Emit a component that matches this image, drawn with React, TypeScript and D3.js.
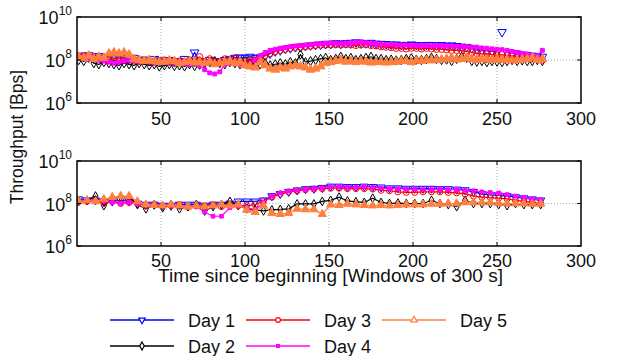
import React from "react";
import * as d3 from "d3";

// ---------- DATA (log10 of throughput in Bps) ----------
// Top panel: raw windows, sampled every 3 windows starting at window 1
const topStart = 1;
const topStep = 3;
const day1Top = [
  8.2, 8.15, 8.22, 8.1, 8.18, 8.12, 8.15, 8.08, 8.15, 8.1,
  8.05, 8.1, 8.0, 8.02, 7.95, 8.05, 7.98, 7.92, 8.0, 7.95,
  7.95, 8.05, 7.9, 8.35, 7.95, 7.9, 8.0, 7.95, 7.92, 8.0,
  8.05, 8.1, 8.12, 8.1, 8.15, 8.1, 8.12, 8.2, 8.3, 8.4,
  8.45, 8.52, 8.55, 8.6, 8.62, 8.65, 8.68, 8.7, 8.72, 8.75,
  8.75, 8.78, 8.76, 8.78, 8.8, 8.82, 8.8, 8.78, 8.8, 8.76,
  8.75, 8.74, 8.72, 8.72, 8.7, 8.7, 8.72, 8.7, 8.68, 8.7,
  8.7, 8.68, 8.7, 8.66, 8.68, 8.65, 8.62, 8.6, 8.55, 8.5,
  8.45, 8.42, 8.4, 8.4, 9.3, 8.35, 8.32, 8.3, 8.25, 8.22,
  8.2, 8.18, 8.15,
];
const day2Top = [
  8.0, 7.95, 8.1, 7.85, 7.8, 7.9, 7.85, 7.8, 7.75, 7.85,
  7.8, 7.75, 7.85, 7.8, 7.75, 7.8, 7.7, 7.75, 7.8, 7.72,
  7.75, 7.7, 7.8, 7.72, 7.78, 7.85, 7.9, 7.95, 7.85, 7.8,
  7.9, 7.85, 7.8, 7.95, 7.85, 7.75, 7.8, 7.85, 7.75, 7.8,
  7.85, 7.8, 7.9, 7.85, 8.25, 7.9, 7.95, 8.0, 8.05, 8.1,
  8.0, 8.05, 8.15, 8.05, 8.1, 8.0, 8.05, 8.1, 8.15, 8.05,
  8.05, 8.0, 8.02, 7.98, 8.0, 8.05, 8.08, 8.02, 8.0, 8.05,
  8.1, 8.05, 8.0, 8.02, 7.95, 8.05, 8.15, 8.1, 7.95, 7.92,
  7.95, 7.9, 7.95, 7.92, 7.9, 7.95, 8.0, 7.95, 7.98, 7.95,
  7.95, 8.0, 7.95,
];
const day3Top = [
  8.15, 8.2, 8.1, 8.15, 8.05, 8.1, 8.0, 8.05, 8.1, 8.0,
  8.05, 8.0, 7.95, 8.0, 7.95, 7.9, 7.95, 8.0, 7.9, 7.95,
  7.95, 7.9, 8.0, 7.95, 8.15, 7.9, 8.05, 7.95, 7.9, 8.05,
  7.95, 8.1, 7.9, 7.95, 7.98, 8.0, 8.1, 8.2, 8.3, 8.4,
  8.45, 8.5, 8.55, 8.58, 8.6, 8.62, 8.65, 8.68, 8.7, 8.7,
  8.7, 8.72, 8.7, 8.72, 8.7, 8.68, 8.7, 8.72, 8.68, 8.66,
  8.62, 8.6, 8.58, 8.55, 8.55, 8.52, 8.55, 8.55, 8.52, 8.55,
  8.52, 8.5, 8.5, 8.48, 8.45, 8.45, 8.42, 8.4, 8.35, 8.3,
  8.28, 8.3, 8.25, 8.22, 8.25, 8.2, 8.18, 8.15, 8.1, 8.08,
  8.05, 8.02, 8.0,
];
const day4Top = [
  8.1, 8.15, 8.05, 8.1, 8.0, 7.95, 7.9, 7.85, 7.9, 7.95,
  8.0, 7.95, 7.9, 7.95, 7.92, 7.88, 7.9, 7.95, 7.9, 7.85,
  7.9, 7.85, 7.8, 7.85, 7.75, 7.55, 7.4, 7.35, 7.45, 7.8,
  7.85, 7.9, 7.8, 7.75, 7.8, 8.0, 8.2, 8.35, 8.45, 8.5,
  8.55, 8.58, 8.62, 8.65, 8.68, 8.7, 8.72, 8.75, 8.75, 8.78,
  8.8, 8.78, 8.76, 8.78, 8.8, 8.82, 8.85, 8.8, 8.78, 8.76,
  8.74, 8.72, 8.72, 8.7, 8.7, 8.7, 8.68, 8.68, 8.66, 8.68,
  8.66, 8.66, 8.68, 8.65, 8.65, 8.64, 8.62, 8.62, 8.6, 8.6,
  8.56, 8.55, 8.52, 8.5, 8.48, 8.45, 8.4, 8.35, 8.3, 8.28,
  8.22, 8.2, 8.45,
];
const day5Top = [
  8.15, 8.1, 8.2, 8.05, 8.15, 8.1, 8.3, 8.35, 8.3, 8.35,
  8.25, 8.05, 8.0, 7.95, 8.0, 7.95, 7.9, 7.92, 7.98, 7.95,
  7.85, 7.9, 7.95, 7.88, 7.9, 7.85, 7.92, 7.8, 7.85, 7.9,
  7.95, 7.85, 7.9, 7.75, 7.7, 7.65, 7.9, 7.75, 7.6, 7.55,
  7.65, 7.6, 7.7, 7.75, 7.7, 7.65, 7.55, 7.6, 7.7, 7.85,
  7.9, 7.95, 8.0, 7.92, 7.95, 7.9, 7.95, 7.92, 7.88, 7.9,
  7.92, 7.88, 7.9, 7.92, 7.95, 7.95, 7.9, 7.98, 7.95, 8.0,
  7.98, 8.0, 8.02, 8.05, 8.1, 8.02, 8.05, 8.1, 8.05, 8.0,
  8.05, 8.02, 8.0, 8.05, 8.0, 8.02, 7.98, 8.0, 8.02, 8.05,
  8.1, 8.0, 8.05,
];

// Bottom panel: smoothed, every 5 windows starting at window 1
const botStart = 1;
const botStep = 5;
const day1Bot = [
  8.2, 8.15, 8.15, 8.1, 8.1, 8.15, 8.1, 8.0, 7.95, 7.95,
  7.9, 7.9, 7.95, 7.95, 7.95, 7.9, 7.95, 7.95, 8.0, 8.1,
  8.1, 8.1, 8.15, 8.35, 8.45, 8.55, 8.62, 8.68, 8.7, 8.74,
  8.8, 8.8, 8.78, 8.78, 8.8, 8.78, 8.76, 8.72, 8.72, 8.7,
  8.7, 8.7, 8.7, 8.68, 8.68, 8.66, 8.63, 8.55, 8.45, 8.4,
  8.38, 8.35, 8.3, 8.25, 8.2, 8.15,
];
const day2Bot = [
  8.1, 8.15, 8.35, 7.9, 8.2, 8.3, 8.3, 7.95, 7.75, 7.95,
  7.8, 7.95, 7.75, 7.85, 7.95, 7.65, 7.85, 7.95, 8.1, 7.9,
  7.75, 7.7, 7.65, 7.7, 7.72, 7.75, 7.98, 7.98, 7.98, 8.1,
  8.15, 8.3, 8.12, 8.08, 8.05, 8.25, 8.05, 8.0, 8.02, 8.0,
  8.0, 8.0, 8.15, 8.0, 7.95, 7.85, 8.15, 8.0, 8.0, 8.0,
  7.95, 7.9, 8.0, 7.95, 7.95, 7.95,
];
const day3Bot = [
  8.1, 8.1, 8.15, 8.0, 8.1, 8.0, 8.05, 8.0, 7.9, 7.95,
  7.9, 7.9, 7.95, 7.85, 7.9, 7.9, 7.95, 7.85, 7.95, 7.9,
  7.9, 7.95, 8.1, 8.3, 8.45, 8.55, 8.6, 8.65, 8.68, 8.7,
  8.72, 8.72, 8.7, 8.7, 8.7, 8.68, 8.62, 8.6, 8.55, 8.52,
  8.52, 8.55, 8.55, 8.55, 8.52, 8.5, 8.45, 8.35, 8.3, 8.28,
  8.25, 8.22, 8.15, 8.1, 8.05, 8.0,
];
const day4Bot = [
  8.1, 8.1, 8.15, 8.1, 8.05, 8.0, 8.05, 8.0, 7.95, 7.9,
  7.92, 7.9, 7.88, 7.9, 7.85, 7.6, 7.4, 7.4, 7.8, 7.9,
  7.8, 7.7, 8.05, 8.35, 8.5, 8.58, 8.62, 8.66, 8.7, 8.72,
  8.78, 8.8, 8.76, 8.76, 8.8, 8.76, 8.72, 8.7, 8.7, 8.68,
  8.68, 8.66, 8.66, 8.68, 8.65, 8.65, 8.62, 8.6, 8.55, 8.52,
  8.5, 8.42, 8.35, 8.28, 8.22, 8.18,
];
const day5Bot = [
  8.1, 8.15, 8.1, 8.2, 8.3, 8.35, 8.35, 8.1, 7.95, 7.92,
  7.9, 7.95, 7.9, 7.85, 7.9, 7.85, 7.9, 7.95, 7.9, 7.95,
  7.7, 7.6, 7.9, 7.55, 7.5, 7.55, 7.75, 7.72, 7.72, 7.5,
  7.95, 7.92, 7.98, 7.95, 7.92, 7.9, 7.92, 7.9, 7.92, 7.95,
  7.95, 7.95, 7.98, 7.98, 8.0, 8.0, 8.05, 8.05, 8.05, 8.05,
  8.02, 8.0, 8.0, 8.0, 7.98, 7.98,
];

const seriesNames = ["Day 1", "Day 2", "Day 3", "Day 4", "Day 5"];
const xTicks = [50, 100, 150, 200, 250, 300];
const yTickExps = [10, 8, 6];

// ---------- STYLES ----------
const colors = ["#0000ff", "#000000", "#ff0000", "#ff00ff", "#ff7f3f"];
type Mk = { type: d3.SymbolType; size: number; rot: number; fill: boolean };
const markers: Mk[] = [
  { type: d3.symbolTriangle, size: 26, rot: 180, fill: false },
  { type: d3.symbolDiamond, size: 20, rot: 0, fill: false },
  { type: d3.symbolCircle, size: 26, rot: 0, fill: false },
  { type: d3.symbolSquare, size: 12, rot: 0, fill: true },
  { type: d3.symbolTriangle, size: 26, rot: 0, fill: true },
];

const W = 619;
const H = 356;
const FONT = "'Liberation Sans', Arial, Helvetica, sans-serif";

const x = d3.scaleLinear().domain([0, 300]).range([77, 581]);

function Panel({
  top,
  bottom,
  data,
  start,
  step,
  mSizeScale,
  labelOffset,
}: {
  top: number;
  bottom: number;
  data: number[][];
  start: number;
  step: number;
  mSizeScale: number;
  labelOffset: number;
}) {
  const y = d3.scaleLog().domain([1e6, 1e10]).range([bottom, top]);
  const line = d3
    .line<number>()
    .defined((v) => v < 9)
    .x((_, i) => x(start + i * step))
    .y((v) => y(Math.pow(10, v)));
  const [x0, x1] = x.range();
  return (
    <g>
      <clipPath id={`clip${top}`}>
        <rect x={x0} y={top} width={x1 - x0} height={bottom - top} />
      </clipPath>
      {/* grid */}
      {xTicks.slice(0, 5).map((t) => (
        <line
          key={t}
          x1={x(t)}
          x2={x(t)}
          y1={top}
          y2={bottom}
          stroke="#999"
          strokeWidth={0.8}
          strokeDasharray="1,2"
        />
      ))}
      <line
        x1={x0}
        x2={x1}
        y1={y(1e8)}
        y2={y(1e8)}
        stroke="#999"
        strokeWidth={0.8}
        strokeDasharray="1,2"
      />
      {/* series */}
      <g clipPath={`url(#clip${top})`}>
        {data.map((vals, si) => {
          const mk = markers[si];
          const path = d3.symbol().type(mk.type).size(mk.size * mSizeScale)();
          return (
            <g key={si}>
              <path d={line(vals) || ""} fill="none" stroke={colors[si]} strokeWidth={1.2} />
              {vals.map((v, i) => (
                <path
                  key={i}
                  d={path || ""}
                  transform={`translate(${x(start + i * step)},${y(Math.pow(10, v))}) rotate(${mk.rot})`}
                  fill={mk.fill ? colors[si] : "none"}
                  stroke={colors[si]}
                  strokeWidth={1}
                />
              ))}
            </g>
          );
        })}
      </g>
      {/* frame */}
      <rect x={x0} y={top} width={x1 - x0} height={bottom - top} fill="none" stroke="#000" strokeWidth={1.5} />
      {/* tick marks */}
      {xTicks.slice(0, 5).map((t) => (
        <g key={t}>
          <line x1={x(t)} x2={x(t)} y1={bottom} y2={bottom - 4} stroke="#000" />
          <line x1={x(t)} x2={x(t)} y1={top} y2={top + 4} stroke="#000" />
        </g>
      ))}
      {yTickExps.map((e) => (
        <g key={e}>
          <line x1={x0} x2={x0 + 4} y1={y(Math.pow(10, e))} y2={y(Math.pow(10, e))} stroke="#000" />
          <line x1={x1} x2={x1 - 4} y1={y(Math.pow(10, e))} y2={y(Math.pow(10, e))} stroke="#000" />
        </g>
      ))}
      {/* x tick labels */}
      {xTicks.map((t) => (
        <text
          key={t}
          x={x(t)}
          y={bottom + labelOffset}
          textAnchor="middle"
          fontSize={18}
          fontFamily={FONT}
          fill="#111"
        >
          {t}
        </text>
      ))}
      {/* y tick labels */}
      {yTickExps.map((e) => (
        <text
          key={e}
          x={x0 - 5}
          y={y(Math.pow(10, e)) + 7}
          textAnchor="end"
          fontSize={18}
          fontFamily={FONT}
          fill="#111"
        >
          10
          <tspan fontSize={12} dy={-9}>
            {e}
          </tspan>
        </text>
      ))}
    </g>
  );
}

export default function App() {
  const topData = [day1Top, day2Top, day3Top, day4Top, day5Top];
  const botData = [day1Bot, day2Bot, day3Bot, day4Bot, day5Bot];
  const legendPos = [
    { lx: 110, ty: 320 },
    { lx: 110, ty: 346 },
    { lx: 246, ty: 320 },
    { lx: 246, ty: 346 },
    { lx: 382, ty: 320 },
  ];
  return (
    <svg
      width={W}
      height={H}
      style={{ position: "absolute", left: 0, top: 0, background: "#fff" }}
    >
      <rect width={W} height={H} fill="#fff" />
      <Panel top={17} bottom={103} data={topData} start={topStart} step={topStep} mSizeScale={1.25} labelOffset={22} />
      <Panel top={161} bottom={246} data={botData} start={botStart} step={botStep} mSizeScale={1.1} labelOffset={20.5} />
      <text
        transform="translate(23,137) rotate(-90)"
        textAnchor="middle"
        fontSize={17.5}
        fontFamily={FONT}
        fill="#111"
      >
        Throughput [Bps]
      </text>
      <text
        x={158}
        y={282}
        fontSize={18}
        fontFamily={FONT}
        fill="#111"
        textLength={345}
        lengthAdjust="spacingAndGlyphs"
      >
        Time since beginning [Windows of 300 s]
      </text>
      {seriesNames.map((name, si) => {
        const p = legendPos[si];
        const mk = markers[si];
        const path = d3.symbol().type(mk.type).size(si === 3 ? 8 : 18)();
        return (
          <g key={name}>
            <line x1={p.lx} x2={p.lx + 64} y1={p.ty} y2={p.ty} stroke={colors[si]} strokeWidth={1.3} />
            <path
              d={path || ""}
              transform={`translate(${p.lx + 32},${p.ty}) rotate(${mk.rot})`}
              fill={si === 3 ? colors[si] : "#fff"}
              stroke={colors[si]}
              strokeWidth={1.2}
            />
            <text x={p.lx + 78} y={p.ty + 7} fontSize={18} fontFamily={FONT} fill="#111">
              {name}
            </text>
          </g>
        );
      })}
    </svg>
  );
}
